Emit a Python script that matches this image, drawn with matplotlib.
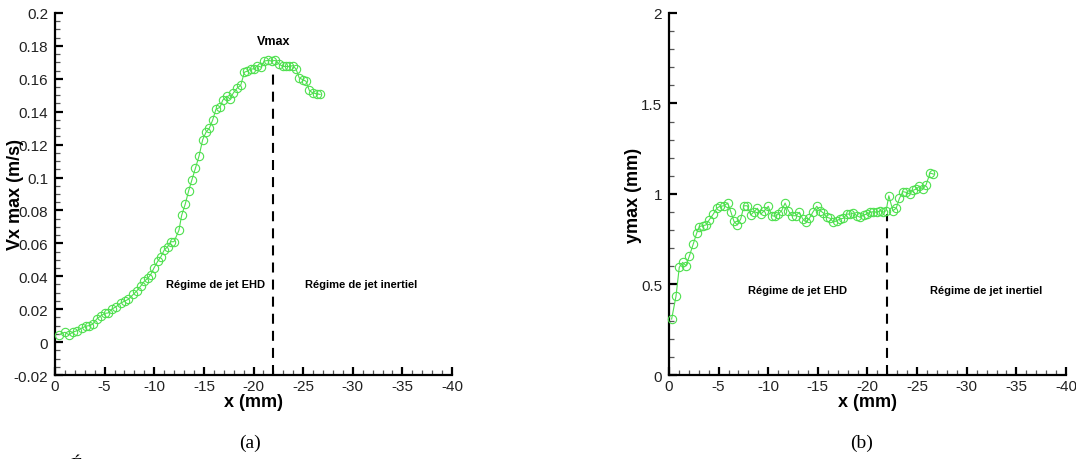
import matplotlib
matplotlib.use("Agg")
import matplotlib.pyplot as plt
from matplotlib.ticker import MultipleLocator, FormatStrFormatter

plt.rcParams["font.family"] = ["Liberation Sans", "DejaVu Sans"]
plt.rcParams["axes.unicode_minus"] = False

# (a) peak axial velocity vs distance
x_a = [-0.44, -1.0, -1.41, -1.78, -2.25, -2.69, -3.12, -3.46, -3.8, -4.2,
       -4.63, -5.04, -5.37, -5.71, -6.15, -6.62, -7.05, -7.39, -7.89, -8.23,
       -8.63, -9.0, -9.34, -9.64, -9.97, -10.34, -10.68, -11.01, -11.35, -11.69,
       -11.99, -12.49, -12.76, -13.13, -13.47, -13.8, -14.14, -14.51, -14.88, -15.21,
       -15.55, -15.89, -16.22, -16.62, -16.9, -17.3, -17.63, -17.97, -18.37, -18.71,
       -19.08, -19.38, -19.72, -20.05, -20.38, -20.79, -21.06, -21.49, -21.83, -22.17,
       -22.57, -22.94, -23.27, -23.6, -23.95, -24.28, -24.61, -24.96, -25.29, -25.62,
       -25.96, -26.36, -26.7]
vx_max = [0.0046, 0.006, 0.0044, 0.006, 0.007, 0.0085, 0.0097, 0.010, 0.0109, 0.014,
          0.016, 0.0175, 0.0177, 0.020, 0.0215, 0.0237, 0.025, 0.026, 0.029, 0.031,
          0.034, 0.037, 0.0387, 0.041, 0.045, 0.049, 0.052, 0.056, 0.058, 0.061,
          0.061, 0.068, 0.077, 0.084, 0.092, 0.0987, 0.1055, 0.113, 0.123, 0.1275,
          0.130, 0.135, 0.1416, 0.1426, 0.147, 0.1494, 0.1478, 0.1514, 0.1545, 0.156,
          0.164, 0.1647, 0.166, 0.166, 0.168, 0.167, 0.1708, 0.1712, 0.1708, 0.1712,
          0.169, 0.1675, 0.1675, 0.1675, 0.168, 0.166, 0.1605, 0.1595, 0.1585, 0.153,
          0.1514, 0.151, 0.1505]

# (b) position of the velocity peak
x_b = [-0.27, -0.71, -1.04, -1.38, -1.71, -2.05, -2.45, -2.79, -3.06, -3.39,
       -3.73, -4.07, -4.47, -4.81, -5.14, -5.55, -5.92, -6.25, -6.55, -6.89,
       -7.23, -7.56, -7.9, -8.24, -8.57, -8.91, -9.25, -9.61, -10.01, -10.36,
       -10.69, -11.02, -11.36, -11.7, -12.03, -12.37, -12.78, -13.14, -13.48, -13.81,
       -14.15, -14.49, -14.89, -15.23, -15.56, -15.9, -16.23, -16.57, -16.91, -17.24,
       -17.58, -17.92, -18.25, -18.59, -18.93, -19.26, -19.6, -19.93, -20.27, -20.6,
       -20.94, -21.28, -21.55, -21.88, -22.15, -22.56, -22.89, -23.22, -23.57, -23.9,
       -24.24, -24.57, -24.9, -25.24, -25.58, -25.91, -26.31, -26.64]
y_max = [0.309, 0.435, 0.595, 0.622, 0.604, 0.656, 0.724, 0.783, 0.82, 0.825,
         0.829, 0.858, 0.889, 0.921, 0.932, 0.935, 0.95, 0.899, 0.849, 0.829,
         0.862, 0.935, 0.935, 0.884, 0.902, 0.921, 0.889, 0.908, 0.932, 0.88,
         0.877, 0.889, 0.908, 0.95, 0.908, 0.88, 0.88, 0.899, 0.862, 0.844,
         0.866, 0.899, 0.932, 0.908, 0.895, 0.871, 0.866, 0.844, 0.853, 0.862,
         0.866, 0.889, 0.889, 0.895, 0.88, 0.871, 0.884, 0.889, 0.899, 0.902,
         0.899, 0.908, 0.899, 0.908, 0.99, 0.908, 0.921, 0.976, 1.013, 1.009,
         1.0, 1.02, 1.027, 1.043, 1.026, 1.052, 1.116, 1.11]

x_split = -22.0
regime_labels = ["Régime de jet EHD", "Régime de jet inertiel"]

GREEN = "#4ee04e"
SERIF = ["Liberation Serif", "DejaVu Serif"]


def style_axis(ax, ymin, ymax, ymajor, yminor):
    ax.set_xlim(0, -40)
    ax.set_ylim(ymin, ymax)
    ax.spines["top"].set_visible(False)
    ax.spines["right"].set_visible(False)
    for s in ("left", "bottom"):
        ax.spines[s].set_linewidth(1.6)
    ax.xaxis.set_major_locator(MultipleLocator(5))
    ax.xaxis.set_minor_locator(MultipleLocator(1))
    ax.yaxis.set_major_locator(MultipleLocator(ymajor))
    ax.yaxis.set_minor_locator(MultipleLocator(yminor))
    ax.yaxis.set_major_formatter(FormatStrFormatter("%g"))
    ax.xaxis.set_major_formatter(FormatStrFormatter("%g"))
    ax.tick_params(which="major", direction="in", length=6, width=1.6,
                   labelsize=11, labelcolor="#222222")
    ax.tick_params(which="minor", direction="in", length=3.5, width=0.9,
                   color="#555555")
    ax.tick_params(axis="x", pad=3)
    ax.tick_params(axis="y", pad=5)
    ax.set_xlabel("x (mm)", fontsize=13, fontweight="bold", labelpad=0)


fig = plt.figure(figsize=(10.76, 4.6), dpi=100)
ax1 = fig.add_axes([0.0511, 0.1826, 0.369, 0.787])
ax2 = fig.add_axes([0.6217, 0.1826, 0.369, 0.787])

# panel (a)
ax1.plot(x_a, vx_max, "-o", color=GREEN, lw=0.8, ms=6, mfc="none", mew=0.8,
         clip_on=False, zorder=3)
ax1.plot([x_split, x_split], [-0.02, 0.165], color="black", lw=1.5,
         linestyle=(0, (4.8, 3.4)), clip_on=False)
style_axis(ax1, -0.02, 0.2, 0.02, 0.005)
ax1.set_ylabel("Vx max (m/s)", fontsize=13, fontweight="bold")
ax1.yaxis.set_label_coords(-0.078, 0.5)
ax1.text(x_split, 0.1827, "Vmax", ha="center", va="center", fontsize=9,
         fontweight="bold")
ax1.text(-16.2, 0.035, regime_labels[0], ha="center", va="center",
         fontsize=8, fontweight="bold")
ax1.text(-30.8, 0.035, regime_labels[1], ha="center", va="center",
         fontsize=8, fontweight="bold")

# panel (b)
ax2.plot(x_b, y_max, "-o", color=GREEN, lw=0.8, ms=6, mfc="none", mew=0.8,
         clip_on=False, zorder=3)
ax2.plot([x_split, x_split], [0, 0.89], color="black", lw=1.5,
         linestyle=(0, (4.8, 3.4)), clip_on=False)
style_axis(ax2, 0, 2, 0.5, 0.1)
ax2.set_ylabel("ymax (mm)", fontsize=13, fontweight="bold")
ax2.yaxis.set_label_coords(-0.068, 0.5)
ax2.text(-13.0, 0.47, regime_labels[0], ha="center", va="center",
         fontsize=8, fontweight="bold")
ax2.text(-32.0, 0.47, regime_labels[1], ha="center", va="center",
         fontsize=8, fontweight="bold")

# captions (bottom line of the next caption is cut off in the source)
fig.text(250 / 1076, 1 - 443 / 460, "(a)", ha="center", va="center",
         fontsize=14, family=SERIF)
fig.text(862 / 1076, 1 - 443 / 460, "(b)", ha="center", va="center",
         fontsize=14, family=SERIF)
fig.text(76 / 1076, 1 - 471 / 460, "É", ha="center", va="baseline",
         fontsize=14, family=SERIF)

fig.savefig("out.png", dpi=100)
